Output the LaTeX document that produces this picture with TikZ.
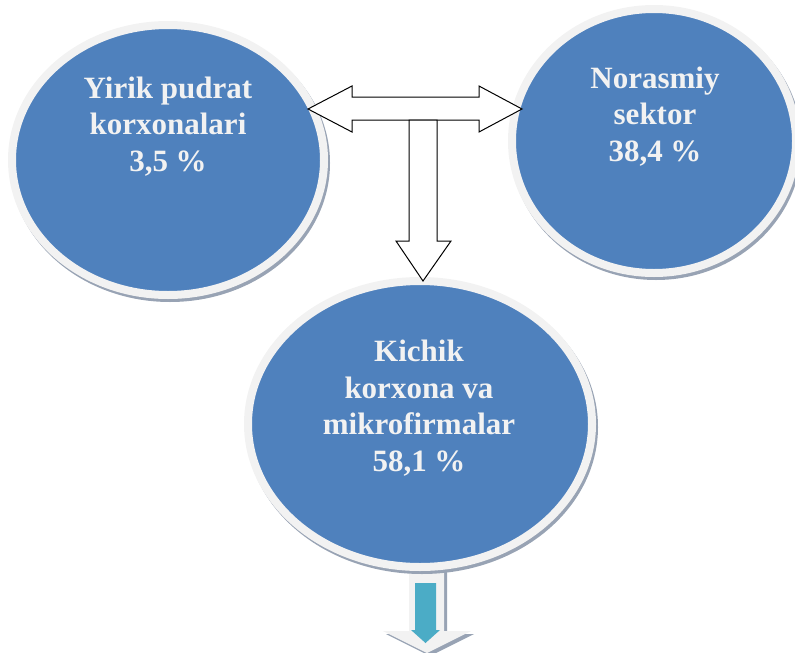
\documentclass[tikz,border=0pt]{standalone}
\usepackage{fontspec}
\setmainfont{Liberation Serif}
\usetikzlibrary{shapes.geometric,calc}
\definecolor{blobblue}{HTML}{4F81BD}
\definecolor{rimgray}{HTML}{F2F2F2}
\definecolor{shadowgray}{HTML}{98A3B4}
\definecolor{tealarrow}{HTML}{4BACC6}
\begin{document}
\begin{tikzpicture}[x=1pt,y=-1pt,
  blob/.style={ellipse, fill=blobblue, draw=rimgray, line width=8pt, inner sep=0pt},
  blobshadow/.style={fill=shadowgray},
  lbl/.style={text=rimgray, font=\bfseries\fontsize{31}{36.7}\selectfont, align=center, inner sep=0pt},
  blockarrow/.style={fill=white, draw=black, line width=1pt, line join=miter},
  lightarrow/.style={fill=rimgray},
  arrowshadow/.style={fill=shadowgray},
  innerarrow/.style={fill=tealarrow}
]
\useasboundingbox (0,0) rectangle (795,653);
\clip (0,0) rectangle (795,653);

% bottom outgoing arrow (drawn under the bottom ellipse)
\coordinate (dtip) at (427,653);
\coordinate (dtipsh) at (430,656);
\coordinate (ttip) at (425.5,643);
\fill[arrowshadow] (412,560) -- (447,560) -- (447,634) -- (474,634) -- (dtipsh) -- (386,634) -- (412,634) -- cycle;
\fill[lightarrow] (409,560) -- (444,560) -- (444,631) -- (471,631) -- (dtip) -- (383,631) -- (409,631) -- cycle;
\fill[innerarrow] (415,583) -- (436,583) -- (436,630) -- (440,630) -- (ttip) -- (411,630) -- (415,630) -- cycle;

% ellipses
\fill[blobshadow] (170,163) ellipse [x radius=160pt, y radius=139pt];
\node[blob, minimum width=312pt, minimum height=270pt] (L) at (168,160) {};
\fill[blobshadow] (656,144) ellipse [x radius=146pt, y radius=136pt];
\node[blob, minimum width=284pt, minimum height=264pt] (R) at (654,141) {};
\fill[blobshadow] (422,427) ellipse [x radius=176pt, y radius=147pt];
\node[blob, minimum width=344pt, minimum height=286pt] (B) at (420,424) {};

% labels
\node[lbl] (Lt) at (168,126.5) {Yirik pudrat\\korxonalari\\3,5 \%};
\node[lbl] (Rt) at (655,116.5) {Norasmiy\\sektor\\38,4 \%};
\node[lbl] (Bt) at (419,408) {Kichik\\korxona va\\mikrofirmalar\\58,1 \%};

% block arrows
\coordinate (hl) at (308,109);
\coordinate (hr) at (522,109);
\coordinate (vt) at (423,281);
\draw[blockarrow] (hl) -- (352,86) -- (352,97) -- (479,97) -- (479,86) -- (hr) -- (479,132) -- (479,120) -- (352,120) -- (352,132) -- cycle;
\draw[blockarrow] (409,120) -- (437,120) -- (437,241) -- (451,241) -- (vt) -- (396,241) -- (409,241) -- cycle;
\end{tikzpicture}
\end{document}
